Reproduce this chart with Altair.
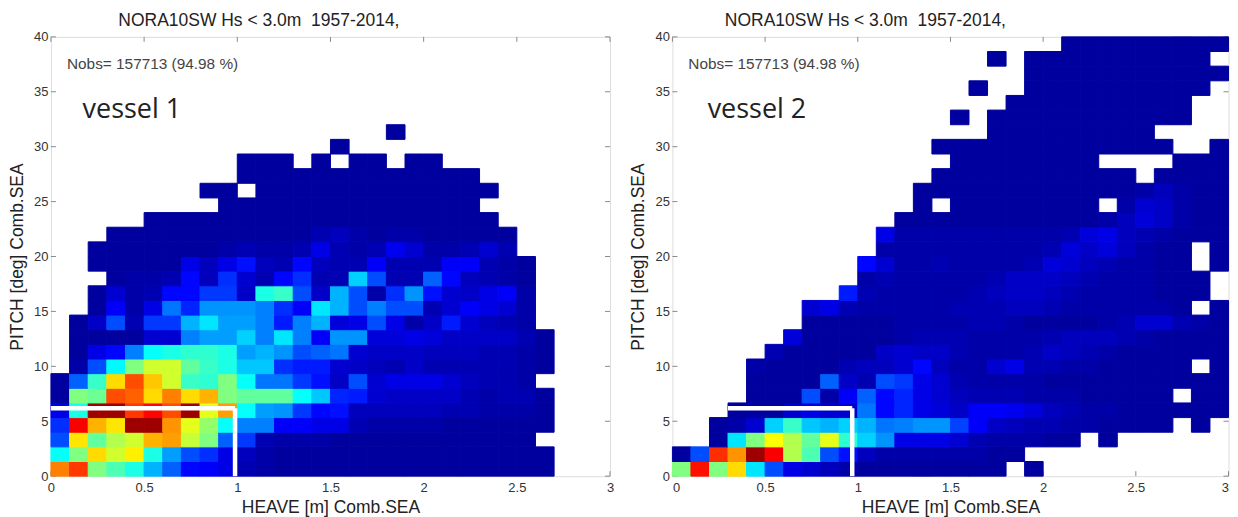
import altair as alt
import pandas as pd

_ = None
D = 3
# cell values (x100, jet scale), rows listed from pitch 0 upwards, columns from heave 0
LEFT_ROWS = [
    [75,82,50,45,40,30,22,13,12,10,5,4,3,3,3,3,3,3,3,3,3,3,3,3,3,3,3],
    [38,50,66,58,64,40,28,20,17,10,6,4,3,3,3,3,3,3,3,3,3,3,3,3,3,3,3],
    [20,65,47,55,58,70,72,57,50,22,18,5,4,4,4,3,3,3,3,3,3,3,3,3,3,3,_],
    [17,88,70,65,97,97,73,60,52,38,25,25,12,12,10,10,5,4,4,4,4,3,3,3,3,3,3],
    [10,40,97,97,82,87,80,97,60,72,38,28,27,18,13,14,6,6,6,6,6,5,5,4,4,4,3],
    [3,50,48,80,78,66,75,66,70,50,47,47,47,38,32,16,15,8,7,7,7,7,5,4,5,5,3],
    [3,22,43,66,80,68,58,43,42,50,38,24,24,18,14,7,20,8,10,10,10,8,6,5,5,4,_],
    [_,4,20,37,50,58,58,47,43,40,32,32,17,15,15,8,7,6,5,7,5,5,5,5,5,4,3],
    [_,3,10,13,25,38,40,42,42,40,28,30,27,20,22,24,8,7,7,7,6,6,6,5,5,4,3],
    [_,3,3,3,3,8,8,25,28,28,33,25,35,25,12,27,27,9,9,10,9,7,7,7,7,5,3],
    [_,3,7,20,5,18,18,30,35,28,28,25,15,25,30,9,10,20,10,4,7,15,8,6,5,4],
    [_,_,3,12,4,10,24,16,27,27,27,25,17,12,35,30,20,25,20,20,5,8,12,10,8,4],
    [_,_,3,8,4,5,13,13,18,18,7,40,43,20,7,30,20,4,17,27,14,8,7,10,12,4],
    [_,_,_,3,4,4,5,13,6,17,8,5,13,17,5,5,33,20,5,5,22,13,6,5,4,3],
    [_,_,3,3,3,3,3,10,6,10,14,6,5,13,6,5,5,12,5,5,5,12,12,5,4,3],
    [_,_,3,3,3,3,3,3,3,4,5,4,4,5,10,5,4,5,11,8,4,4,5,8,5],
    [_,_,_,3,3,3,3,3,3,3,3,3,3,3,5,6,4,3,4,4,3,3,3,3,3],
    [_]*5 + [D]*19,
    [_]*9 + [D]*14,
    [_]*8 + [D,D,_] + [D]*13,
    [_]*10 + [D]*13,
    [_]*10 + [D,D,D,_,D,_,D,D,_,D,D],
    [_]*15 + [D],
    [_]*18 + [D],
]
RIGHT_ROWS = [
    [50,86,50,66,35,20,10,8,6,4,3,3,3,3,3,3,3,3,_,3],
    [3,20,83,73,97,88,55,45,20,14,6,4,4,4,4,4,4,3,3],
    [_,_,3,35,50,62,55,47,60,42,33,27,10,10,10,8,5,4,4,4,3,3,_,3],
    [_,_,3,4,8,33,43,32,30,33,30,24,25,27,27,19,12,7,6,5,5,4,4,3,3,3,3,_,3,_],
    [_,_,_,3,3,3,8,10,8,8,24,13,16,10,9,7,12,12,11,9,6,5,4,4,3,3,3,3,3,3],
    [_,_,_,_,3,3,3,20,4,12,22,13,16,10,8,6,5,5,5,4,4,4,3,3,3,3,3,_,3,3],
    [_,_,_,_,3,3,3,3,22,7,5,20,18,10,8,5,4,4,4,4,3,3,3,3,3,3,3,3,3,3],
    [_,_,_,_,4,3,3,3,3,5,6,6,8,13,6,4,4,8,10,5,5,4,4,3,3,3,3,3,_,3],
    [_,_,_,_,_,5,3,3,3,3,3,7,8,7,7,5,4,4,4,5,7,6,5,4,3,3,3,3,3,3],
    [_,_,_,_,_,_,9,3,3,3,3,3,4,5,5,5,4,4,4,4,5,6,6,6,5,4,3,3,3,3],
    [_,_,_,_,_,_,_,3,3,3,3,3,4,4,4,4,5,5,4,3,3,3,3,4,5,8,8,5,4,3],
    [_,_,_,_,_,_,_,8,10,5,4,4,4,4,4,5,5,5,6,6,5,4,4,4,4,4,4,3,_,3],
    [_,_,_,_,_,_,_,_,_,15,5,4,4,4,4,4,5,6,7,7,6,5,4,4,4,4,3,3,3,_],
    [_,_,_,_,_,_,_,_,_,_,4,5,4,4,4,4,4,5,7,7,7,6,5,4,4,4,3,3,3,_],
    [_,_,_,_,_,_,_,_,_,_,13,8,4,4,5,4,4,4,4,5,9,8,6,5,4,4,3,3,_,3],
    [_,_,_,_,_,_,_,_,_,_,_,4,4,4,4,4,4,4,4,4,5,9,7,9,6,4,3,3,_,3],
    [_,_,_,_,_,_,_,_,_,_,_,10,4,4,4,4,4,4,4,4,4,5,9,10,6,5,4,3,3,3],
    [_,_,_,_,_,_,_,_,_,_,_,_,3,3,3,3,3,3,3,3,3,3,3,4,6,9,7,4,3,3],
    [_,_,_,_,_,_,_,_,_,_,_,_,_,3,_,3,3,3,3,3,3,3,3,_,4,8,7,4,3,3],
    [_]*13 + [3,3,3,3,3,3,3,3,3,3,3,3,4,6,4,3,3],
    [_]*14 + [D]*11 + [_] + [D]*4,
    [_]*15 + [D]*8 + [_,_,_,_] + [D]*3,
    [_]*14 + [D]*13 + [_,_,D],
    [_]*17 + [D]*9,
    [_]*15 + [D,_] + [D]*11,
    [_]*18 + [D]*10,
    [_]*16 + [D,_,_] + [D]*10,
    [_]*19 + [D]*11,
    [_]*17 + [D,_] + [D]*10,
    [_]*21 + [D]*9,
]

TITLE = "NORA10SW Hs < 3.0m\u00a0\u00a01957-2014,"
XTITLE = "HEAVE [m] Comb.SEA"
YTITLE = "PITCH [deg] Comb.SEA"
NOBS = "Nobs= 157713 (94.98 %)"
X_TICKS = [0, 0.5, 1, 1.5, 2, 2.5, 3]
Y_TICKS = [0, 5, 10, 15, 20, 25, 30, 35, 40]
JET_STOPS = [0, 12.5, 37.5, 62.5, 87.5, 100]
JET_COLORS = ["#000080", "#0000ff", "#00ffff", "#ffff00", "#ff0000", "#800000"]

W_LEFT, W_RIGHT, H = 560, 557, 440
GREY = "#8a8a8a"
FONT = "Liberation Sans"
xs = alt.Scale(domain=[0, 3], nice=False, zero=False)
ys = alt.Scale(domain=[0, 40], nice=False, zero=False)
yaxis = alt.Axis(values=Y_TICKS, format="~g", title=YTITLE, grid=False, domain=False, ticks=False,
                 labelPadding=3, labelFontSize=13, labelColor="#333", labelFont=FONT,
                 titleFont=FONT, titleFontSize=17.5, titleFontWeight="normal", titleColor="#222", titlePadding=7)
cscale = alt.Scale(domain=JET_STOPS, range=JET_COLORS, interpolate="rgb", clamp=True)


def Y(f):
    return alt.Y(f, type="quantitative", scale=ys, axis=yaxis)


def panel(rows, box, label, label_x, title_dx, W, flush):
    xaxis = alt.Axis(values=X_TICKS, format="~g", title=XTITLE, grid=False, domain=False, ticks=False,
                     labelPadding=5, labelFontSize=13, labelColor="#333", labelFont=FONT, labelFlush=flush,
                     titleFont=FONT, titleFontSize=17.5, titleFontWeight="normal", titleColor="#222", titlePadding=4)

    def X(f):
        return alt.X(f, type="quantitative", scale=xs, axis=xaxis)

    cells = [
        {"x0": c * 0.1, "x1": (c + 1) * 0.1, "y0": r * 40 / 30, "y1": (r + 1) * 40 / 30, "v": v}
        for r, row in enumerate(rows) for c, v in enumerate(row) if v is not None
    ]
    xt = pd.DataFrame({"t": X_TICKS})
    yt = pd.DataFrame({"t": Y_TICKS})
    tick = alt.Chart(xt).mark_rule(color=GREY, strokeWidth=1)
    layers = [
        tick.encode(x=X("t"), y=alt.value(H), y2=alt.value(H - 5)),
        tick.encode(x=X("t"), y=alt.value(0), y2=alt.value(5)),
        alt.Chart(yt).mark_rule(color=GREY, strokeWidth=1).encode(y=Y("t"), x=alt.value(0), x2=alt.value(5)),
        alt.Chart(yt).mark_rule(color=GREY, strokeWidth=1).encode(y=Y("t"), x=alt.value(W - 5), x2=alt.value(W)),
    ]
    rect = alt.Chart(pd.DataFrame(cells)).mark_rect(strokeWidth=1).encode(
        x=X("x0"), x2="x1", y=Y("y0"), y2="y1",
        color=alt.Color("v:Q", scale=cscale, legend=None),
        stroke=alt.Stroke("v:Q", scale=cscale, legend=None),
    )
    layers.append(rect)
    segs = pd.DataFrame(box)
    layers.append(alt.Chart(segs).mark_rule(color="white", strokeWidth=4.5).encode(
        x=X("a"), x2="b", y=Y("c"), y2="d"))
    nobs = pd.DataFrame({"x": [0.086], "y": [37.5], "t": [NOBS]})
    layers.append(alt.Chart(nobs).mark_text(align="left", baseline="middle", font=FONT, fontSize=15.4,
                                            color="#444").encode(x=X("x"), y=Y("y"), text="t:N"))
    ves = pd.DataFrame({"x": [label_x], "y": [33.3], "t": [label]})
    layers.append(alt.Chart(ves).mark_text(align="left", baseline="middle", font="Open Sans", fontSize=27,
                                           color="#222").encode(x=X("x"), y=Y("y"), text="t:N"))
    return alt.layer(*layers).properties(
        width=W, height=H,
        title=alt.TitleParams(TITLE, font=FONT, fontSize=17.5, fontWeight="normal", color="#222",
                              anchor="start", dx=title_dx, dy=1, offset=2),
    )


left = panel(LEFT_ROWS, [{"a": 0, "b": 0.988, "c": 6.18, "d": 6.18}, {"a": 0.988, "b": 0.988, "c": 0, "d": 6.18}],
             "vessel 1", 0.17, 110, W_LEFT, False)
right = panel(RIGHT_ROWS, [{"a": 0.3, "b": 0.97, "c": 6.18, "d": 6.18}, {"a": 0.97, "b": 0.97, "c": 0, "d": 6.18}],
              "vessel 2", 0.19, 95, W_RIGHT, True)

chart = (
    alt.hconcat(left, right, spacing=14.5)
    .properties(padding={"left": 0, "top": 3.5, "right": 0, "bottom": 0})
    .configure_view(stroke=GREY, strokeWidth=1)
    .configure(background="white")
)
chart.save("out.html", embed_options={"renderer": "svg", "actions": False})
